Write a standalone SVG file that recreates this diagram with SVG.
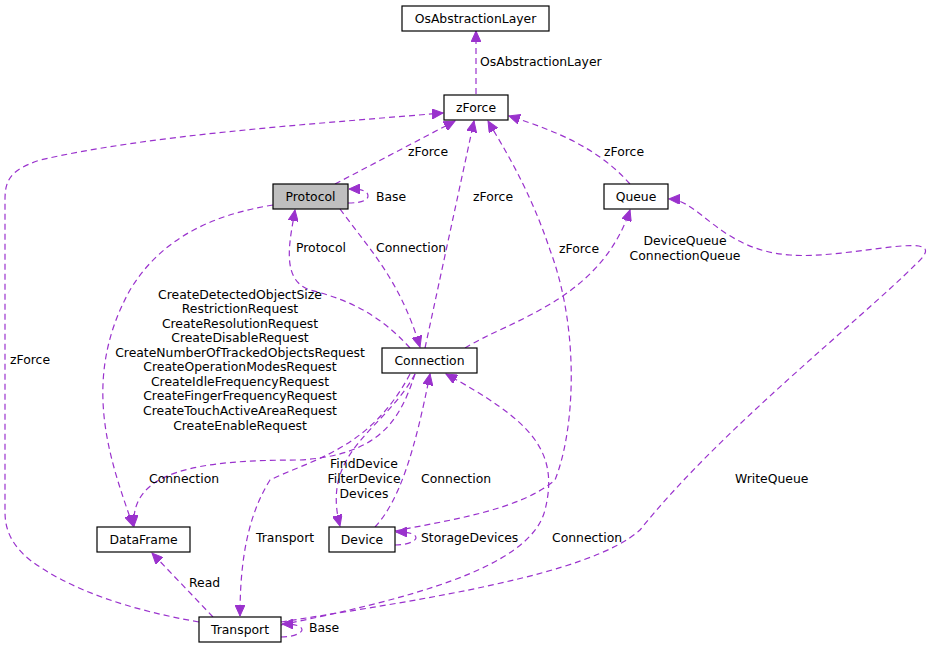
<svg xmlns="http://www.w3.org/2000/svg" width="937" height="648" viewBox="0 0 937 648">
<style>
.n rect{fill:#fff;stroke:#000;stroke-width:1.2}
text{font-family:"DejaVu Sans",sans-serif;font-size:12.4px;fill:#000}
.n text{text-anchor:middle}
.e path{fill:none;stroke:#9a32cd;stroke-width:1.2;stroke-dasharray:6,4;marker-end:url(#a)}
.c{text-anchor:middle}
</style>
<defs><marker id="a" markerUnits="userSpaceOnUse" markerWidth="12" markerHeight="10" refX="11" refY="5" orient="auto"><path d="M0,0 L11,5 L0,10 z" fill="#9a32cd" stroke="#9a32cd"/></marker></defs>
<rect width="937" height="648" fill="#fff"/>
<g class="e">
<path d="M476,94 L476,31"/>
<path d="M335,184 L455,121"/>
<path d="M348,203 C362,203 368,200 368,196 C368,191 362,189 349,189"/>
<path d="M630,184 C600,150 560,132 509,116"/>
<path d="M425,348 L474,121"/>
<path d="M395,531 C450,520 520,510 555,480 C575,430 580,330 550,250 C530,190 505,150 488,121"/>
<path d="M465,348 C510,320 600,300 630,210"/>
<path d="M410,348 C380,315 350,300 310,290 C280,280 290,240 295,210"/>
<path d="M340,209 C370,250 400,280 420,347"/>
<path d="M273,205 C210,215 160,240 130,290 C80,380 110,460 133,526"/>
<path d="M415,374 C400,420 380,455 300,460 C200,460 130,470 134,526"/>
<path d="M410,374 C370,450 310,460 270,480 C245,520 240,570 240,616"/>
<path d="M415,374 C385,430 320,450 340,526"/>
<path d="M375,527 C400,500 415,450 430,374"/>
<path d="M281,625 C400,600 530,570 545,510 C560,450 530,420 446,374"/>
<path d="M199,622 C130,610 70,590 30,560 C5,540 5,520 5,510 L5,200 C5,180 10,170 40,160 C150,135 300,125 443,113"/>
<path d="M281,622 C420,600 590,575 640,530 C720,430 860,320 915,265 C960,225 850,260 790,255 C720,250 700,200 669,199"/>
<path d="M213,617 L152,553"/>
<path d="M395,545 C410,545 416,540 416,538 C416,534 410,532 396,532"/>
<path d="M281,637 C296,637 302,632 302,630 C302,626 296,624 282,624"/>
</g>
<g class="n" id="OsAbstractionLayer"><rect x="402" y="6" width="147" height="25"/><text x="475.5" y="23">OsAbstractionLayer</text></g>
<g class="n" id="zForce"><rect x="444" y="95" width="64" height="25"/><text x="476" y="112">zForce</text></g>
<g class="n" id="Protocol"><rect x="273" y="184" width="75" height="25" style="fill:#bfbfbf"/><text x="310.5" y="201">Protocol</text></g>
<g class="n" id="Queue"><rect x="604" y="184" width="64" height="25"/><text x="636" y="201">Queue</text></g>
<g class="n" id="Connection"><rect x="382" y="348" width="95" height="25"/><text x="429.5" y="365">Connection</text></g>
<g class="n" id="DataFrame"><rect x="97" y="527" width="93" height="25"/><text x="143.5" y="544">DataFrame</text></g>
<g class="n" id="Device"><rect x="329" y="527" width="66" height="25"/><text x="362" y="544">Device</text></g>
<g class="n" id="Transport"><rect x="199" y="617" width="82" height="25"/><text x="240" y="634">Transport</text></g>
<g id="labels">
<text x="480" y="66">OsAbstractionLayer</text>
<text x="408" y="156">zForce</text>
<text x="376" y="201">Base</text>
<text x="604" y="156">zForce</text>
<text x="473" y="201">zForce</text>
<text x="559" y="253">zForce</text>
<text class="c" x="685" y="245">DeviceQueue</text>
<text class="c" x="685" y="260">ConnectionQueue</text>
<text x="296" y="252">Protocol</text>
<text x="376" y="252">Connection</text>
<text class="c" x="240" y="299">CreateDetectedObjectSize</text>
<text class="c" x="240" y="313">RestrictionRequest</text>
<text class="c" x="240" y="328">CreateResolutionRequest</text>
<text class="c" x="240" y="342">CreateDisableRequest</text>
<text class="c" x="240" y="357">CreateNumberOfTrackedObjectsRequest</text>
<text class="c" x="240" y="371">CreateOperationModesRequest</text>
<text class="c" x="240" y="386">CreateIdleFrequencyRequest</text>
<text class="c" x="240" y="400">CreateFingerFrequencyRequest</text>
<text class="c" x="240" y="415">CreateTouchActiveAreaRequest</text>
<text class="c" x="240" y="430">CreateEnableRequest</text>
<text x="149" y="483">Connection</text>
<text class="c" x="364" y="468">FindDevice</text>
<text class="c" x="364" y="483">FilterDevice</text>
<text class="c" x="364" y="498">Devices</text>
<text x="421" y="483">Connection</text>
<text x="256" y="542">Transport</text>
<text x="421" y="542">StorageDevices</text>
<text x="552" y="542">Connection</text>
<text x="735" y="483">WriteQueue</text>
<text x="10" y="364">zForce</text>
<text x="189" y="587">Read</text>
<text x="309" y="632">Base</text>
</g>
</svg>
